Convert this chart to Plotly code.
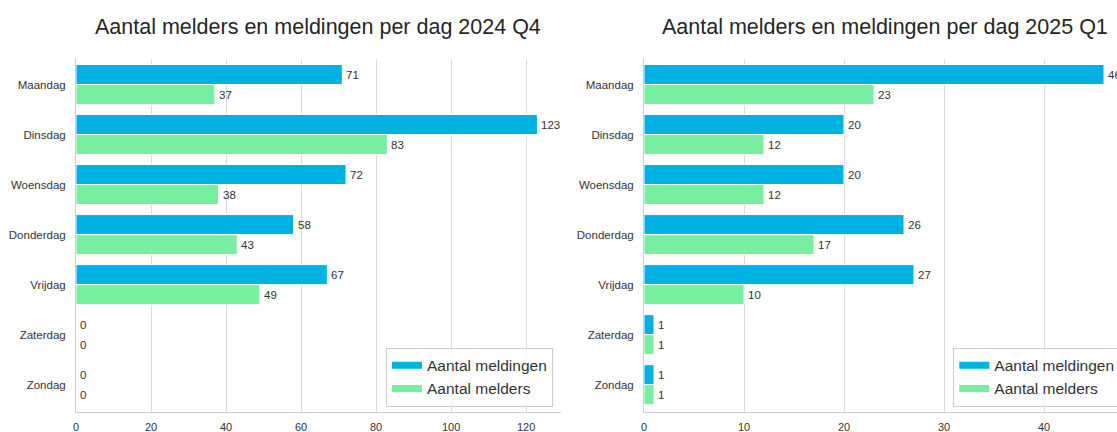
import plotly.graph_objects as go

days = ["Maandag", "Dinsdag", "Woensdag", "Donderdag", "Vrijdag", "Zaterdag", "Zondag"]
q4_meldingen = [71, 123, 72, 58, 67, 0, 0]
q4_melders = [37, 83, 38, 43, 49, 0, 0]
q1_meldingen = [46, 20, 20, 26, 27, 1, 1]
q1_melders = [23, 12, 12, 17, 10, 1, 1]
titles = ["Aantal melders en meldingen per dag 2024 Q4",
          "Aantal melders en meldingen per dag 2025 Q1"]
series_names = ["Aantal meldingen", "Aantal melders"]

BLUE = "#00B2E2"
GREEN = "#78EEA0"
TXT = "#333333"
FONT = "Liberation Sans, Arial, sans-serif"
W, H = 1117, 432

fig = go.Figure()

def px_x(p):
    return p / W

def px_y(p):
    return 1 - p / H

panels = [
    dict(xa="x", ya="y", data=[q4_meldingen, q4_melders], legend="legend"),
    dict(xa="x2", ya="y2", data=[q1_meldingen, q1_melders], legend="legend2"),
]

annotations = []
for pnl in panels:
    for k, (vals, name, col) in enumerate(zip(pnl["data"], series_names, [BLUE, GREEN])):
        fig.add_trace(go.Bar(
            y=days, x=vals, orientation="h", name=name,
            marker=dict(color=col, line=dict(color="white", width=1)),
            showlegend=False, xaxis=pnl["xa"], yaxis=pnl["ya"],
        ))
        # value labels next to each bar end (blue bar above, green bar below)
        for d, v in zip(days, vals):
            annotations.append(dict(
                x=v, y=d, xref=pnl["xa"], yref=pnl["ya"], text=str(v),
                xanchor="left", yanchor="middle", showarrow=False,
                xshift=2, yshift=10 if k == 0 else -10,
                font=dict(size=11.5, color=TXT, family=FONT),
            ))
    for name, col in zip(series_names, [BLUE, GREEN]):
        fig.add_trace(go.Scatter(
            x=[None], y=[None], mode="lines", name=name,
            line=dict(color=col, width=7),
            xaxis=pnl["xa"], yaxis=pnl["ya"], legend=pnl["legend"],
            showlegend=True,
        ))

ax_common = dict(
    showgrid=True, gridcolor="#dcdcdc", gridwidth=1,
    showline=True, linecolor="#cccccc", linewidth=1,
    zeroline=False, ticks="", automargin=False,
    tickfont=dict(size=11, color=TXT, family=FONT),
    ticklabelstandoff=5,
)
ay_common = dict(
    type="category", categoryorder="array", categoryarray=days,
    range=[6.54, -0.51], showgrid=False,
    showline=True, linecolor="#cccccc", linewidth=1,
    zeroline=False, ticks="", automargin=False,
    tickfont=dict(size=11.5, color=TXT, family=FONT),
    ticklabelstandoff=7,
)

for t, cx in zip(titles, [318, 885]):
    annotations.append(dict(
        text=t, x=px_x(cx), y=px_y(27), xref="paper", yref="paper",
        xanchor="center", yanchor="middle", showarrow=False,
        font=dict(size=21.5, color="#262626", family=FONT)))

ydom = [px_y(411.7), px_y(59)]
leg_common = dict(bgcolor="rgba(255,255,255,0.8)", bordercolor="#cccccc", borderwidth=1,
                  font=dict(size=15.5, color=TXT, family=FONT), tracegroupgap=0,
                  yanchor="bottom", y=px_y(406.7), xanchor="left")
fig.update_layout(
    template="none",
    width=W, height=H,
    margin=dict(l=0, r=0, t=0, b=0, autoexpand=False),
    paper_bgcolor="white", plot_bgcolor="white",
    barmode="group", bargap=0.2, bargroupgap=0,
    font=dict(family=FONT, color=TXT),
    xaxis=dict(domain=[px_x(76), px_x(560.5)], range=[0, 129.15],
               tickvals=[0, 20, 40, 60, 80, 100, 120], anchor="y", **ax_common),
    yaxis=dict(domain=ydom, anchor="x", **ay_common),
    xaxis2=dict(domain=[px_x(644), 1.0], range=[0, 47.3],
                tickvals=[0, 10, 20, 30, 40], anchor="y2", **ax_common),
    yaxis2=dict(domain=ydom, anchor="x2", **ay_common),
    legend=dict(x=px_x(386), **leg_common),
    legend2=dict(x=px_x(953.3), **leg_common),
    annotations=annotations,
)

fig.write_html("out.html", config={"displayModeBar": False},
               post_script="document.body.style.margin='0';document.body.style.overflow='hidden';")
